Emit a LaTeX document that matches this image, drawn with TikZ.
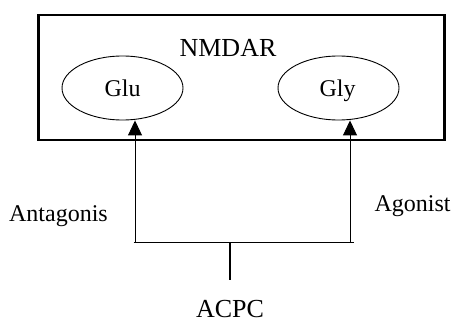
\documentclass[tikz,border=0pt]{standalone}
\usepackage{fontspec}
\setmainfont{Liberation Serif}
\usetikzlibrary{shapes.geometric,arrows.meta}
\begin{document}
\begin{tikzpicture}[x=1pt,y=-1pt,
  lbl/.style={font=\fontsize{24}{28}\selectfont, inner sep=0pt, anchor=base},
  big/.style={font=\fontsize{26}{30}\selectfont, inner sep=0pt, anchor=base},
  site/.style={ellipse, draw, line width=0.9pt, minimum width=121pt, minimum height=64pt, inner sep=0pt},
  frame/.style={draw, line width=2.6pt, minimum width=406pt, minimum height=125pt, inner sep=0pt},
  link/.style={line width=1.4pt},
  tiparrow/.style={line width=1pt, -{Triangle[width=14pt,length=15pt]}}]
\useasboundingbox (0,0) rectangle (452,323);
\node[frame] (box) at (241.5,77.5) {};
\node[big] (nmdar) at (228,56.5) {NMDAR};
\node[site] (glu) at (122.5,88) {};
\node[site] (gly) at (338.5,88) {};
\node[lbl] (glut) at (122.5,97) {Glu};
\node[lbl] (glyt) at (337.5,97) {Gly};
\coordinate (bl) at (133.5,242.5);
\coordinate (br) at (354,242.5);
\coordinate (al) at (135,242.5);
\coordinate (ar) at (350,242.5);
\coordinate (mid) at (230,242.5);
\coordinate (stemend) at (230,280);
\draw[link] (bl) -- (br);
\draw[link] (mid) -- (stemend);
\draw[tiparrow] (al) -- (al |- glu.south);
\draw[tiparrow] (ar) -- (ar |- gly.south);
\node[lbl] (ant) at (58.5,221) {Antagonis};
\node[lbl] (ago) at (412.5,211.5) {Agonist};
\node[big] (acpc) at (230,317) {ACPC};
\end{tikzpicture}
\end{document}
